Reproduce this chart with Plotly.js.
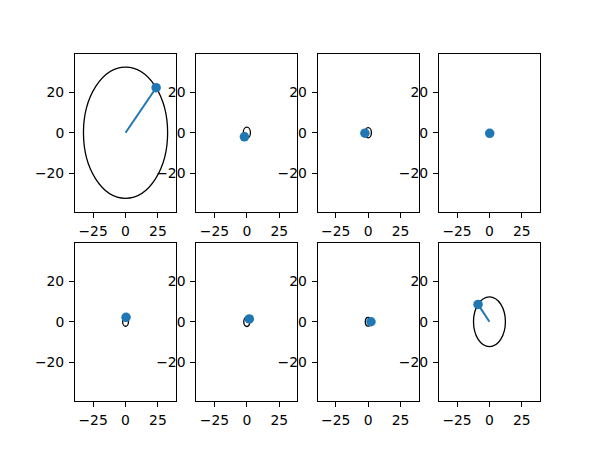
<!DOCTYPE html>
<html>
<head>
<meta charset="utf-8">
<script src="https://cdn.plot.ly/plotly-3.0.1.min.js"></script>
<style>html,body{margin:0;padding:0;background:#fff;}#chart{width:600px;height:450px;}</style>
</head>
<body>
<div id="chart"></div>
<script>
// Tip position of the rotating vector in each of the 8 panels (row-major)
const panelX = [23.6, -1.9, -2.5, 0.2, 0.4, 1.9, 2.2, -8.8];
const panelY = [22.3, -2.0, -0.2, -0.3, 2.2, 1.4, 0.0, 8.6];
const xTicks = [-25, 0, 25];
const yTicks = [-20, 0, 20];
const axisLimit = 39;

(function () {
const blue = '#1f77b4';
const nCols = 4, nRows = 2;
const gLeft = 0.125, gRight = 0.9, gBottom = 0.11, gTop = 0.88, wspace = 0.2, hspace = 0.2;
const w = (gRight - gLeft) / (nCols + (nCols - 1) * wspace);
const h = (gTop - gBottom) / (nRows + (nRows - 1) * hspace);

const traces = [];
const shapes = [];
const layout = {
  width: 600, height: 450,
  margin: {l: 0, r: 0, t: 0, b: 0},
  paper_bgcolor: '#fff', plot_bgcolor: '#fff',
  showlegend: false,
  font: {family: 'DejaVu Sans', size: 13.9, color: '#000'}
};

for (let i = 0; i < panelX.length; i++) {
  const row = Math.floor(i / nCols), col = i % nCols;
  const s = i === 0 ? '' : String(i + 1);
  const xa = 'x' + s, ya = 'y' + s;
  const x0 = gLeft + col * w * (1 + wspace);
  const y1 = gTop - row * h * (1 + hspace);
  const axCommon = {
    showgrid: false, zeroline: false,
    showline: true, mirror: true, linecolor: '#000', linewidth: 1.1,
    ticks: 'outside', ticklen: 4.9, tickwidth: 1.1, tickcolor: '#000',
    tickfont: {family: 'DejaVu Sans', size: 13.9, color: '#000'},
    range: [-axisLimit, axisLimit], fixedrange: true
  };
  layout['xaxis' + s] = Object.assign({}, axCommon, {
    domain: [x0, x0 + w], anchor: ya, tickmode: 'array', tickvals: xTicks, ticklabelstandoff: 2
  });
  layout['yaxis' + s] = Object.assign({}, axCommon, {
    domain: [y1 - h, y1], anchor: xa, tickmode: 'array', tickvals: yTicks, ticklabelstandoff: 2
  });
  const px = panelX[i], py = panelY[i];
  const r = Math.sqrt(px * px + py * py);
  traces.push({x: [0, px], y: [0, py], xaxis: xa, yaxis: ya, mode: 'lines',
    line: {color: blue, width: 2}, hoverinfo: 'skip'});
  traces.push({x: [px], y: [py], xaxis: xa, yaxis: ya, mode: 'markers',
    marker: {color: blue, size: 9.5}, hoverinfo: 'skip'});
  shapes.push({type: 'circle', xref: xa, yref: ya, x0: -r, x1: r, y0: -r, y1: r,
    line: {color: '#000', width: 1.3}, fillcolor: 'rgba(0,0,0,0)', layer: 'below'});
}
layout.shapes = shapes;
Plotly.newPlot('chart', traces, layout, {staticPlot: true, displayModeBar: false});
})();
</script>
</body>
</html>
